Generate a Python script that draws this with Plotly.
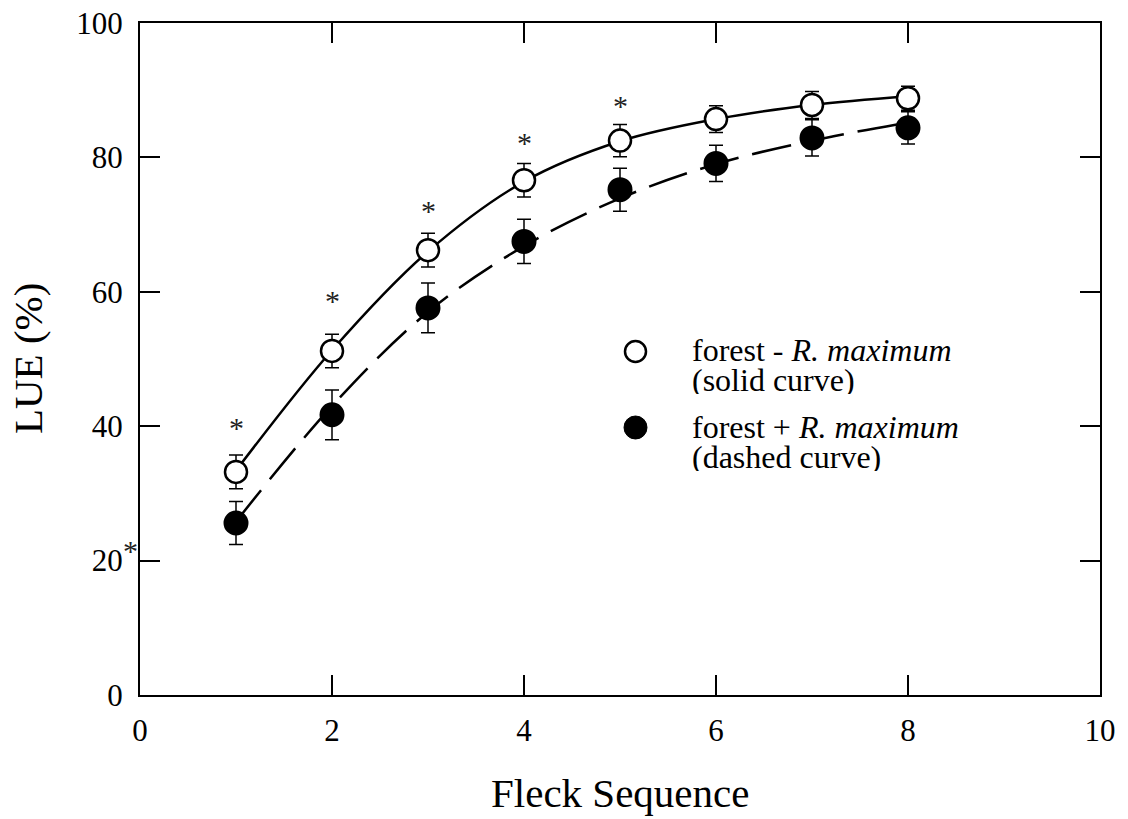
import plotly.graph_objects as go

# ---- data ----
fleck = [1, 2, 3, 4, 5, 6, 7, 8]

lue_minus = [33.2, 51.2, 66.2, 76.6, 82.5, 85.7, 87.8, 88.8]      # forest - R. maximum (open)
err_minus = [2.5, 2.5, 2.5, 2.5, 2.4, 2.0, 2.0, 1.8]
lue_plus = [25.6, 41.7, 57.6, 67.5, 75.2, 79.1, 82.9, 84.4]       # forest + R. maximum (filled)
err_plus = [3.2, 3.7, 3.7, 3.3, 3.2, 2.7, 2.7, 2.4]

# fitted curves at each fleck
curve_minus = [33.4, 51.3, 66.0, 76.4, 82.4, 85.7, 87.8, 89.1]
curve_plus = [25.8, 43.0, 57.0, 66.8, 73.9, 79.0, 82.5, 85.2]

# significance asterisks
sig_x = [1, 2, 3, 4, 5]
sig_y = [40.0, 58.8, 72.2, 82.4, 87.8]

x_ticks = [0, 2, 4, 6, 8, 10]
y_ticks = [0, 20, 40, 60, 80, 100]

legend_lines = ["forest - <i>R. maximum</i>", "(solid curve)",
                "forest + <i>R. maximum</i>", "(dashed curve)"]

FONT = "Liberation Serif"

fig = go.Figure()

fig.add_trace(go.Scatter(x=fleck, y=curve_minus, mode="lines",
                         line=dict(color="black", width=2.5, shape="spline"),
                         showlegend=False, hoverinfo="skip"))
fig.add_trace(go.Scatter(x=fleck, y=curve_plus, mode="lines",
                         line=dict(color="black", width=2.5, shape="spline", dash="40px,14px"),
                         showlegend=False, hoverinfo="skip"))

fig.add_trace(go.Scatter(x=fleck, y=lue_plus, mode="markers",
                         marker=dict(size=23, color="black", line=dict(color="black", width=2)),
                         error_y=dict(type="data", array=err_plus, color="black", thickness=1.5, width=7),
                         showlegend=False))
fig.add_trace(go.Scatter(x=fleck, y=lue_minus, mode="markers",
                         marker=dict(size=22, color="white", line=dict(color="black", width=2.5)),
                         error_y=dict(type="data", array=err_minus, color="black", thickness=1.5, width=7),
                         showlegend=False))

annotations = []
for sx, sy in zip(sig_x, sig_y):
    annotations.append(dict(x=sx, y=sy, xref="x", yref="y", text="*", showarrow=False,
                            font=dict(family=FONT, size=30, color="#222"), yshift=-1))
# asterisk beside the 20 tick label
annotations.append(dict(x=-0.0195, y=20, xref="paper", yref="y", text="*", showarrow=False,
                        font=dict(family=FONT, size=30, color="#222"), yshift=10))

# axis titles
annotations.append(dict(x=0.5, y=-0.146, xref="paper", yref="paper", text="Fleck Sequence",
                        showarrow=False, font=dict(family=FONT, size=41, color="black"),
                        xanchor="center", yanchor="middle"))
annotations.append(dict(x=-0.1166, y=0.5, xref="paper", yref="paper", text="LUE (%)",
                        showarrow=False, textangle=-90, font=dict(family=FONT, size=41, color="black"),
                        xanchor="center", yanchor="middle"))

# legend text
leg_y = [0.5139, 0.4683, 0.3988, 0.3537]
for t, yy in zip(legend_lines, leg_y):
    annotations.append(dict(x=0.5729, y=yy, xref="paper", yref="paper", text=t, showarrow=False,
                            font=dict(family=FONT, size=32, color="black"), height=28,
                            valign="middle", xanchor="left", yanchor="middle"))

shapes = [
    dict(type="circle", xref="paper", yref="paper",
         x0=(625 - 140) / 960, x1=(646 - 140) / 960,
         y0=(695 - 362) / 672, y1=(695 - 341) / 672,
         line=dict(color="black", width=2.5), fillcolor="white"),
    dict(type="circle", xref="paper", yref="paper",
         x0=(624 - 140) / 960, x1=(647 - 140) / 960,
         y0=(695 - 439) / 672, y1=(695 - 416) / 672,
         line=dict(color="black", width=1), fillcolor="black"),
]

axis_common = dict(showgrid=False, zeroline=False, showline=True, linecolor="black", linewidth=2,
                   ticks="inside", ticklen=20, tickwidth=2, tickcolor="black", mirror="ticks",
                   automargin=False,
                   tickfont=dict(family=FONT, size=31, color="black"))

fig.update_layout(
    width=1128, height=819,
    margin=dict(l=140, r=28, t=23, b=124),
    paper_bgcolor="white", plot_bgcolor="white",
    xaxis=dict(range=[0, 10], tickvals=x_ticks, ticklabelstandoff=7, **axis_common),
    yaxis=dict(range=[0, 100], tickvals=y_ticks, ticklabelstandoff=9, **axis_common),
    annotations=annotations, shapes=shapes,
    showlegend=False,
)

fig.write_html("out.html")
